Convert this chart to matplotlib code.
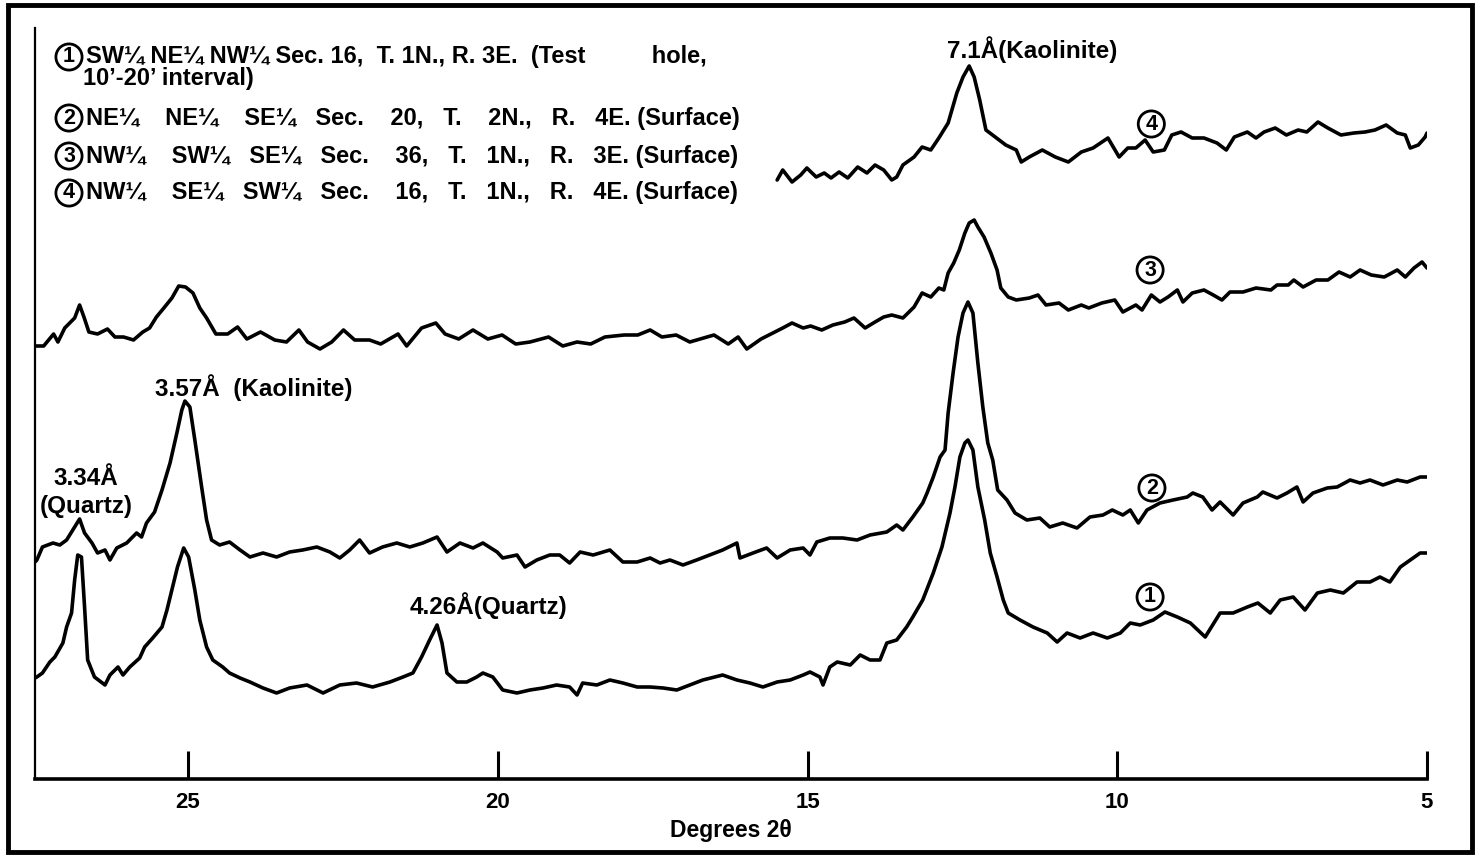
import matplotlib
matplotlib.use("Agg")
import matplotlib.pyplot as plt
from matplotlib.patches import Rectangle

# ---------------- data (degrees 2-theta, relative intensity) ----------------
t1_2theta = [27.47, 27.44, 27.35, 27.23, 27.15, 27.02, 26.96, 26.88, 26.83, 26.78, 26.72, 26.67, 26.62,
             26.51, 26.34, 26.26, 26.13, 26.05, 25.94, 25.78, 25.70, 25.57, 25.42, 25.34, 25.25, 25.17,
             25.07, 24.99, 24.89, 24.81, 24.70, 24.60, 24.44, 24.33, 24.16, 24.00, 23.79, 23.57, 23.36,
             23.08, 22.82, 22.55, 22.28, 22.02, 21.74, 21.53, 21.37, 21.23, 21.10, 20.98, 20.90, 20.82,
             20.66, 20.50, 20.34, 20.24, 20.08, 19.92, 19.69, 19.48, 19.27, 19.05, 18.84, 18.72, 18.63,
             18.40, 18.19, 17.98, 17.75, 17.54, 17.33, 17.11, 16.90, 16.69, 16.37, 16.14, 15.93, 15.72,
             15.49, 15.28, 15.07, 14.96, 14.80, 14.75, 14.64, 14.52, 14.31, 14.15, 13.99, 13.83, 13.72,
             13.56, 13.40, 13.30, 13.14, 12.97, 12.83, 12.70, 12.62, 12.54, 12.46, 12.41, 12.33, 12.25,
             12.14, 12.05, 11.94, 11.84, 11.76, 11.57, 11.36, 11.13, 10.97, 10.81, 10.60, 10.39, 10.16,
             9.95, 9.79, 9.63, 9.42, 9.23, 9.03, 8.82, 8.58, 8.34, 8.13, 7.90, 7.73, 7.53, 7.37, 7.16,
             6.97, 6.77, 6.56, 6.35, 6.13, 5.92, 5.76, 5.60, 5.43, 5.27, 5.11, 5.00]
t1_int = [101, 102, 106, 117, 122, 136, 152, 166, 199, 224, 222, 172, 119,
          102, 94, 104, 112, 104, 112, 121, 132, 141, 152, 169, 192, 212,
          231, 222, 189, 159, 132, 119, 112, 106, 101, 97, 91, 86, 91,
          94, 86, 94, 96, 92, 97, 102, 106, 122, 139, 154, 136, 106,
          97, 97, 102, 106, 102, 89, 86, 89, 91, 94, 92, 84, 96,
          94, 99, 96, 92, 92, 91, 89, 94, 99, 104, 99, 96, 92,
          97, 99, 104, 107, 102, 94, 112, 117, 114, 124, 119, 119, 136,
          139, 152, 162, 179, 206, 232, 266, 292, 322, 336, 339, 329, 292,
          259, 226, 202, 179, 166, 159, 152, 146, 137, 146, 141, 146, 141,
          146, 156, 154, 159, 167, 162, 156, 142, 166, 166, 172, 176, 166, 179, 182,
          169, 186, 189, 186, 197, 197, 202, 197, 212, 219, 226, 226]

t2_2theta = [27.47, 27.44, 27.35, 27.18, 27.07, 26.96, 26.86, 26.75, 26.67, 26.55, 26.46, 26.34, 26.26,
             26.15, 25.99, 25.83, 25.75, 25.67, 25.54, 25.42, 25.29, 25.18, 25.10, 25.05, 24.97, 24.89,
             24.78, 24.70, 24.62, 24.49, 24.33, 24.16, 24.00, 23.79, 23.57, 23.36, 23.15, 22.92, 22.71,
             22.55, 22.39, 22.23, 22.07, 21.86, 21.63, 21.42, 21.21, 20.98, 20.82, 20.61, 20.40, 20.24,
             20.01, 19.92, 19.69, 19.56, 19.37, 19.16, 19.00, 18.84, 18.67, 18.46, 18.19, 17.98, 17.75,
             17.54, 17.38, 17.22, 17.01, 16.79, 16.58, 16.37, 16.14, 16.09, 15.88, 15.66, 15.49, 15.28,
             15.07, 14.96, 14.85, 14.64, 14.43, 14.20, 13.99, 13.72, 13.56, 13.46, 13.30, 13.14, 13.07,
             12.97, 12.86, 12.78, 12.73, 12.65, 12.57, 12.49, 12.41, 12.33, 12.25, 12.17, 12.09, 12.01,
             11.93, 11.78, 11.65, 11.46, 11.25, 11.09, 10.88, 10.65, 10.44, 10.23, 10.08, 9.91, 9.79,
             9.66, 9.52, 9.31, 9.10, 8.87, 8.78, 8.62, 8.47, 8.34, 8.13, 7.97, 7.74, 7.65, 7.42, 7.26,
             7.10, 7.00, 6.84, 6.61, 6.45, 6.24, 6.08, 5.92, 5.71, 5.48, 5.32, 5.11, 5.00]
t2_int = [217, 219, 232, 236, 234, 239, 249, 260, 246, 236, 226, 229, 219,
          231, 236, 246, 242, 256, 267, 289, 316, 346, 369, 378, 372, 339,
          292, 259, 239, 234, 237, 229, 222, 226, 222, 227, 229, 232, 227,
          221, 229, 239, 226, 232, 236, 232, 236, 242, 227, 236, 231, 236,
          227, 221, 224, 212, 219, 224, 224, 216, 227, 224, 229, 217, 217,
          221, 216, 219, 214, 219, 224, 229, 236, 221, 226, 231, 221, 229,
          231, 224, 237, 241, 241, 239, 244, 247, 254, 249, 262, 276, 286,
          302, 322, 329, 366, 406, 442, 466, 477, 466, 416, 372, 336, 319,
          289, 279, 266, 259, 261, 252, 256, 251, 262, 264, 269, 264, 269,
          256, 269, 276, 279, 282, 286, 282, 269, 277, 264, 276, 282, 287, 281, 286,
          292, 277, 286, 291, 292, 299, 296, 299, 294, 299, 297, 302, 302]

t3_2theta = [27.47, 27.33, 27.17, 27.10, 26.99, 26.83, 26.75, 26.68, 26.60, 26.46, 26.30, 26.18, 26.04,
             25.88, 25.73, 25.62, 25.51, 25.39, 25.26, 25.15, 25.04, 24.92, 24.81, 24.70, 24.55, 24.36,
             24.20, 24.05, 23.83, 23.60, 23.41, 23.21, 23.07, 22.87, 22.68, 22.49, 22.31, 22.07, 21.89,
             21.61, 21.47, 21.23, 21.00, 20.85, 20.63, 20.40, 20.16, 19.93, 19.71, 19.48, 19.18, 18.95,
             18.72, 18.50, 18.27, 17.96, 17.74, 17.54, 17.35, 17.12, 16.90, 16.51, 16.28, 16.12, 15.98,
             15.75, 15.40, 15.25, 15.07, 14.95, 14.77, 14.59, 14.40, 14.25, 14.07, 13.91, 13.77, 13.64,
             13.46, 13.28, 13.15, 13.01, 12.88, 12.80, 12.73, 12.64, 12.55, 12.46, 12.39, 12.31, 12.25,
             12.15, 12.04, 11.94, 11.88, 11.76, 11.63, 11.42, 11.28, 11.15, 10.94, 10.79, 10.58, 10.46,
             10.25, 10.04, 9.91, 9.70, 9.60, 9.45, 9.31, 9.18, 9.03, 8.94, 8.79, 8.60, 8.45, 8.31, 8.18,
             7.97, 7.76, 7.52, 7.42, 7.24, 7.15, 7.00, 6.79, 6.60, 6.42, 6.24, 6.08, 5.90, 5.69, 5.48,
             5.35, 5.21, 5.08, 5.00]
t3_int = [433, 433, 445, 437, 451, 461, 474, 462, 447, 445, 450, 442, 442,
          439, 447, 451, 462, 471, 481, 493, 492, 486, 471, 461, 445, 445,
          452, 440, 447, 439, 437, 449, 437, 430, 437, 449, 439, 439, 435,
          445, 433, 451, 456, 445, 440, 449, 440, 444, 435, 437, 442, 433,
          437, 435, 442, 444, 444, 449, 442, 444, 437, 444, 435, 442, 430,
          440, 451, 456, 451, 453, 449, 454, 457, 461, 451, 457, 462, 464,
          461, 472, 486, 482, 491, 489, 506, 516, 529, 546, 556, 559, 552,
          542, 526, 509, 491, 482, 479, 481, 484, 474, 476, 469, 474, 471,
          476, 479, 467, 474, 469, 484, 477, 482, 489, 477, 486, 489, 484, 479, 487,
          487, 491, 489, 494, 494, 499, 492, 499, 499, 507, 502, 509, 504, 502, 509,
          502, 511, 517, 511]

t4_2theta = [15.49, 15.40, 15.25, 15.11, 15.01, 14.86, 14.73, 14.62, 14.49, 14.35, 14.19, 14.04, 13.91,
             13.77, 13.64, 13.56, 13.46, 13.28, 13.15, 13.01, 12.88, 12.73, 12.59, 12.49, 12.39, 12.31,
             12.22, 12.12, 11.97, 11.80, 11.63, 11.55, 11.42, 11.21, 11.00, 10.79, 10.58, 10.39, 10.15,
             9.97, 9.83, 9.70, 9.55, 9.42, 9.24, 9.12, 8.97, 8.79, 8.60, 8.39, 8.24, 8.11, 7.90, 7.76,
             7.63, 7.45, 7.27, 7.08, 6.94, 6.76, 6.60, 6.39, 6.18, 6.00, 5.84, 5.66, 5.48, 5.35, 5.27,
             5.14, 5.03, 5.00]
t4_int = [599, 609, 597, 604, 611, 602, 606, 601, 607, 601, 612, 606, 614,
          609, 599, 602, 614, 622, 632, 629, 641, 656, 686, 702, 713, 702,
          679, 649, 642, 634, 629, 617, 622, 629, 622, 617, 627, 631, 641,
          622, 631, 631, 639, 627, 629, 644, 647, 641, 641, 636, 629, 642, 647, 641,
          647, 651, 644, 649, 647, 657, 651, 644, 646, 647, 649, 654, 646, 644, 631,
          634, 642, 646]

tick_values = [25, 20, 15, 10, 5]
tick_labels = ["25", "20", "15", "10", "5"]

sample_ids = ["1", "2", "3", "4"]
sample_desc = ["SW\u00bc NE\u00bc NW\u00bc Sec. 16,  T. 1N., R. 3E.  (Test          hole,",
               "NE\u00bc    NE\u00bc    SE\u00bc   Sec.    20,   T.    2N.,   R.   4E. (Surface)",
               "NW\u00bc    SW\u00bc   SE\u00bc   Sec.    36,   T.   1N.,   R.   3E. (Surface)",
               "NW\u00bc    SE\u00bc   SW\u00bc   Sec.    16,   T.   1N.,   R.   4E. (Surface)"]
sample_desc_cont = "10\u2019-20\u2019 interval)"

# curve-label positions (2theta, intensity)
curve_label_x = [9.47, 9.44, 9.47, 9.45]
curve_label_y = [182, 291, 509, 655]

# ---------------- figure ----------------
FONT = ["Liberation Sans", "DejaVu Sans"]
plt.rcParams["font.family"] = FONT

W, H = 1475, 855
fig = plt.figure(figsize=(W / 100, H / 100), dpi=100)
fig.patch.set_facecolor("white")

ax = fig.add_axes([35 / W, (H - 779) / H, (1427 - 35) / W, (779 - 28) / H])
ax.set_xlim(27.47, 5)
ax.set_ylim(0, 751)

for xs, ys in [(t1_2theta, t1_int), (t2_2theta, t2_int), (t3_2theta, t3_int), (t4_2theta, t4_int)]:
    ax.plot(xs, ys, color="black", lw=2.6, solid_joinstyle="round", solid_capstyle="round")

for s in ["top", "right"]:
    ax.spines[s].set_visible(False)
ax.spines["bottom"].set_linewidth(2.6)
ax.spines["left"].set_linewidth(1.6)
ax.set_yticks([])
ax.set_xticks(tick_values)
ax.set_xticklabels(tick_labels, fontsize=16, fontweight="bold")
ax.tick_params(axis="x", direction="in", length=20, width=2.2, pad=9)
ax.set_xlabel("Degrees 2\u03b8", fontsize=16.5, fontweight="bold", labelpad=5)

# peak annotations
ann_kw = dict(fontsize=17.5, fontweight="bold", color="black")
ax.text(12.75, 729, "7.1\u00c5(Kaolinite)", ha="left", va="center", **ann_kw)
ax.text(25.54, 391, "3.57\u00c5  (Kaolinite)", ha="left", va="center", **ann_kw)
ax.text(26.65, 301, "3.34\u00c5", ha="center", va="center", **ann_kw)
ax.text(26.65, 272, "(Quartz)", ha="center", va="center", **ann_kw)
ax.text(21.42, 173, "4.26\u00c5(Quartz)", ha="left", va="center", **ann_kw)

circ = dict(boxstyle="circle,pad=0.12", fc="white", ec="black", lw=2.0)
for sid, cx, cy in zip(sample_ids, curve_label_x, curve_label_y):
    ax.text(cx, cy, sid, ha="center", va="center", fontsize=15.5, fontweight="bold", bbox=circ)

# legend block
leg_y = [57, 118, 156, 193]
for sid, desc, py in zip(sample_ids, sample_desc, leg_y):
    fig.text(69 / W, 1 - py / H, sid, ha="center", va="center", fontsize=15.5, fontweight="bold", bbox=circ)
    fig.text(86 / W, 1 - py / H, desc, ha="left", va="center", fontsize=17, fontweight="bold")
fig.text(83 / W, 1 - 79 / H, sample_desc_cont, ha="left", va="center", fontsize=17, fontweight="bold")

# outer frame
fig.patches.append(Rectangle((8 / W, 3 / H), (1472 - 8) / W, (850 - 3) / H, transform=fig.transFigure,
                             fill=False, lw=3.5, ec="black"))

fig.savefig("out.png", dpi=100, facecolor="white")
